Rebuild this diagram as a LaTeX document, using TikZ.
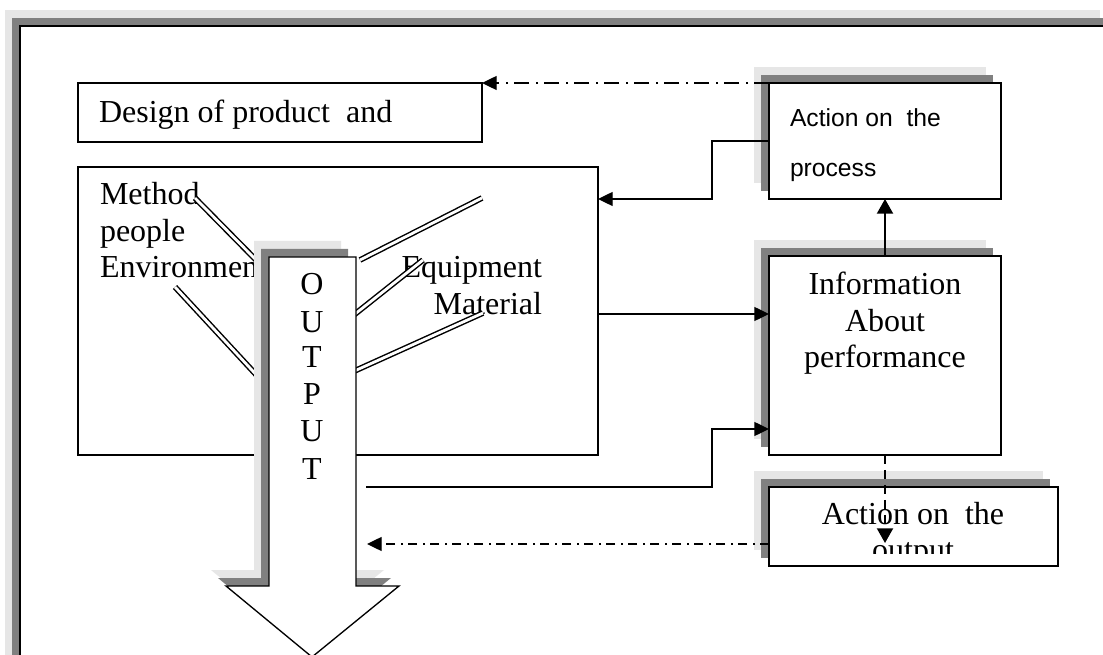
\documentclass[tikz,border=0pt]{standalone}
\usepackage{fontspec}
\setmainfont{Liberation Serif}
\newfontfamily\labelsans{Liberation Sans}
\usetikzlibrary{arrows.meta,shadows,fit,calc}

\definecolor{shlight}{RGB}{230,230,230}
\definecolor{shdark}{RGB}{128,128,128}

\begin{document}
\begin{tikzpicture}[x=0.75pt,y=-0.75pt,
  every node/.style={inner sep=0pt, outer sep=0pt},
  serif/.style={font=\fontsize{24}{27.5}\selectfont},
  sans/.style={font=\labelsans\fontsize{18.5}{20}\selectfont},
  plainbox/.style={draw, line width=1pt},
  shadowbox/.style={draw, fill=white, line width=1.5pt,
    general shadow={fill=shlight, shadow xshift=-11.25pt, shadow yshift=12pt},
    general shadow={fill=shdark, shadow xshift=-6pt, shadow yshift=6pt}},
  conn/.style={line width=1pt},
  tip/.style={-{Triangle[length=11pt,width=10.5pt]}},
  link/.style={double, line width=1.1pt, double distance=2.1pt},
  dashdotlong/.style={dash pattern=on 11.25pt off 4.5pt on 1.5pt off 5.25pt},
  dashdotshort/.style={dash pattern=on 6.75pt off 3.75pt on 1.5pt off 4.5pt},
]
\useasboundingbox (0,0) rectangle (1103,655);

% page frame with its two-tone shadow
\fill[shlight] (5,10) rectangle (1100,690);
\fill[shdark] (12,18) rectangle (1115,690);
\filldraw[fill=white, line width=1.5pt] (20,26) rectangle (1120,700);

% design box
\node[plainbox, fit={(78,83) (482,142)}] (design) {};
\node[serif, anchor=base west] (designtxt) at (99,123) {Design of product\ \ and};

% process box with the factors
\node[plainbox, line width=1.3pt, fit={(78,167) (598,455)}] (bigbox) {};
\node[serif, anchor=base west] (method) at (100,205) {Method};
\node[serif, anchor=base west] (people) at (100,242) {people};
\node[serif, anchor=base west] (environment) at (100,278) {Environment};
\node[serif, anchor=base east] (equipment) at (542,278) {Equipment};
\node[serif, anchor=base east] (material) at (542,315) {Material};

% double strokes feeding the output
\draw[link] (195,198) -- (262,266);
\draw[link] (175,287) -- (262,381);
\draw[link] (360,260) -- (482,198);
\draw[link] (350,318) -- (423,260);
\draw[link] (350,373) -- (483,313);

% shadowed boxes on the right
\node[shadowbox, fit={(769,83) (1001,199)}] (actproc) {};
\node[sans, anchor=base west] (actproc1) at (790,127) {Action on\ \ the};
\node[sans, anchor=base west] (actproc2) at (790,177) {process};

\node[shadowbox, fit={(769,256) (1001,455)}] (info) {};
\node[serif, anchor=base] (info1) at (885,295) {Information};
\node[serif, anchor=base] (info2) at (885,332) {About};
\node[serif, anchor=base] (info3) at (885,368) {performance};

\node[shadowbox, fit={(769,487) (1058,566)}] (actout) {};
\begin{scope}
  \clip (771,489) rectangle (1056,553);
  \node[serif, anchor=base] (actout1) at (913,525) {Action on\ \ the};
  \node[serif, anchor=base] (actout2) at (913,561) {output};
\end{scope}

% the OUTPUT block arrow
\def\outarrow{(269,257) -- (356,257) -- (356,586) -- (399,586) -- (312,657) -- (226,586) -- (269,586) -- cycle}
\fill[shlight, shift={(-15,-16)}] \outarrow;
\fill[shdark, shift={(-8,-8)}] \outarrow;
\filldraw[fill=white, line width=1pt] \outarrow;
\foreach \ch/\y [count=\i] in {O/295,U/333,T/368,P/405,U/442,T/480}
  \node[serif, anchor=base] (out\i) at (312,\y) {\ch};

\coordinate (outfeed) at (366,487);
\coordinate (outback) at (367,544);

% connectors
\draw[conn, dashdotlong, tip] (actproc.north west) -- (design.north east);
\draw[conn, tip] (actproc.west) -- (712,141) |- (bigbox.east |- 0,199);
\draw[line width=1.5pt, -{Triangle[length=11pt,width=12pt]}] (info.north) -- (actproc.south);
\draw[conn, tip] (bigbox.east |- 0,314) -- (info.west |- 0,314);
\draw[conn, tip] (outfeed) -- (712,487) |- (info.west |- 0,429);
\draw[line width=1.5pt, dash pattern=on 6.75pt off 4.5pt, -{Triangle[length=11pt,width=12pt]}] (info.south) -- (885,543);
\draw[conn, dashdotshort, tip] (actout.west |- 0,544) -- (outback);
\end{tikzpicture}
\end{document}
